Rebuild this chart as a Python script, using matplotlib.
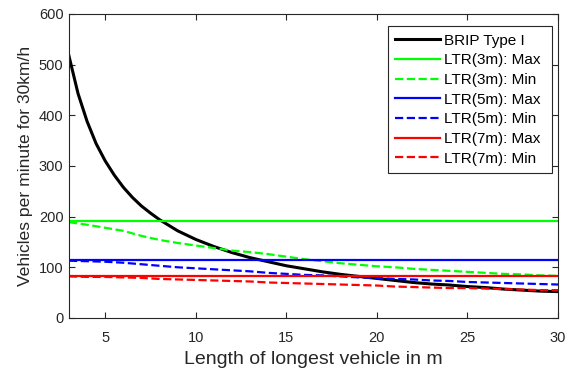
import matplotlib
matplotlib.use("Agg")
import matplotlib.pyplot as plt

plt.rcParams['font.family'] = ['Liberation Sans', 'DejaVu Sans']

# Black curve (BRIP Type I)
brip_x = [3, 3.5, 4, 4.5, 5, 5.5, 6, 6.5, 7, 7.5, 8, 9, 10, 11, 12, 13, 14, 15, 16,
          17, 18, 19, 20, 21, 22, 23, 24, 25, 26, 27, 28, 29, 30]
brip_y = [517, 443, 388, 344, 310, 282, 258, 238, 221, 207, 194, 172, 155, 141, 129,
          119, 111, 103, 97, 91, 86, 82, 78, 74, 70, 67, 65, 62, 60, 57, 55, 53, 52]

lengths = [3, 4, 5, 6, 7, 8, 9, 10, 11, 12, 13, 14, 15, 16, 17, 18, 19, 20, 21, 22,
           23, 24, 25, 26, 27, 28, 29, 30]

ltr3_max = 191
ltr5_max = 114
ltr7_max = 82

ltr3_min = [189, 184, 178, 172, 162, 154, 148, 143, 138, 133, 130, 126, 121, 116, 112,
            108, 105, 102, 100, 97, 95, 93, 91, 89, 87, 86, 84, 83]
ltr5_min = [113, 112, 111, 109, 106, 103, 100, 98, 96, 94, 92, 89, 87, 85, 84, 82, 80,
            79, 77, 76, 74, 73, 71, 70, 69, 68, 67, 66]
ltr7_min = [82, 81, 81, 80, 79, 77, 76, 75, 74, 73, 72, 70, 69, 68, 67, 66, 65, 64,
            62, 61, 60, 59, 59, 58, 57, 56, 55, 55]

xticks = [5, 10, 15, 20, 25, 30]
yticks = [0, 100, 200, 300, 400, 500, 600]

fig = plt.figure(figsize=(5.70, 3.68), dpi=100)
ax = fig.add_axes([0.121, 0.136, 0.858, 0.826])

green = '#00ff00'
blue = '#0000ff'
red = '#ff0000'
lw = 1.6

ax.plot(brip_x, brip_y, color='black', lw=2.2, label='BRIP Type I')
ax.plot([lengths[0], lengths[-1]], [ltr3_max, ltr3_max], color=green, lw=lw, label='LTR(3m): Max')
ax.plot(lengths, ltr3_min, color=green, lw=lw, ls='--', label='LTR(3m): Min')
ax.plot([lengths[0], lengths[-1]], [ltr5_max, ltr5_max], color=blue, lw=lw, label='LTR(5m): Max')
ax.plot(lengths, ltr5_min, color=blue, lw=lw, ls='--', label='LTR(5m): Min')
ax.plot([lengths[0], lengths[-1]], [ltr7_max, ltr7_max], color=red, lw=lw, label='LTR(7m): Max')
ax.plot(lengths, ltr7_min, color=red, lw=lw, ls='--', label='LTR(7m): Min')

ax.set_xlim(3, 30)
ax.set_ylim(0, 600)
ax.set_xticks(xticks)
ax.set_yticks(yticks)
axcol = '#262626'
for s in ax.spines.values():
    s.set_color(axcol)
    s.set_linewidth(0.8)
ax.tick_params(direction='in', top=True, right=True, labelsize=10.5,
               colors=axcol, length=4, width=0.8)
ax.tick_params(axis='x', pad=9.5)
ax.tick_params(axis='y', pad=4)
ax.set_xlabel('Length of longest vehicle in m', fontsize=14, color=axcol, labelpad=4)
ax.set_ylabel('Vehicles per minute for 30km/h', fontsize=12.6, color=axcol, labelpad=4)

handles, labels = ax.get_legend_handles_labels()
leg = ax.legend(handles, [l + ' ' for l in labels],
                loc='upper right', bbox_to_anchor=(0.988, 0.9605), fontsize=11,
                frameon=True, fancybox=False, framealpha=1, edgecolor=axcol,
                handlelength=2.9, handletextpad=0.26, borderpad=0.5,
                labelspacing=0.37, borderaxespad=0.0)
leg.get_frame().set_linewidth(0.8)

fig.savefig('out.png', dpi=100)
